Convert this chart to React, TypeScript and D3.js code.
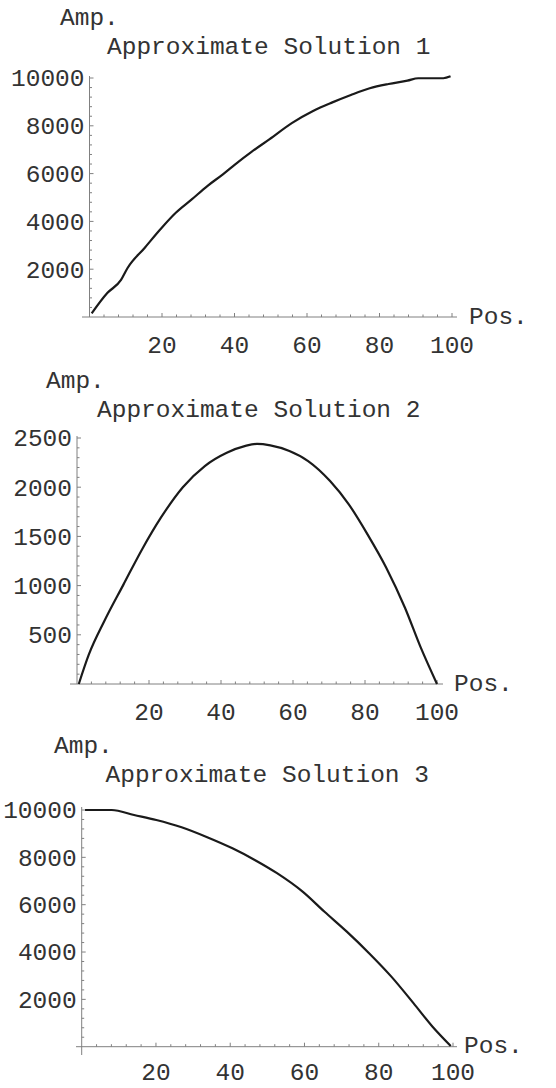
import React from "react";
import * as d3 from "d3";

// ---- data ----
const xTicks = [20, 40, 60, 80, 100];

const sol1Pos = [0.6, 4.9, 8.7, 10.5, 15.2, 19.5, 23.8, 28.2, 32.5, 36.8, 40.2, 44.6, 49.7, 55.8, 61.8, 67, 72.1, 77.3, 82.5, 87.7, 90.7, 97.6, 99.6];
const sol1Amp = [150, 1000, 1550, 2050, 2890, 3660, 4360, 4920, 5480, 5970, 6390, 6900, 7440, 8110, 8630, 8980, 9290, 9570, 9750, 9890, 9990, 9990, 10070];
const sol1YTicks = [2000, 4000, 6000, 8000, 10000];

const sol2Pos = [0.5, 3.3, 7.6, 12.9, 18.1, 23.3, 29.4, 35.5, 41.6, 46.8, 50, 53.7, 59, 64.2, 70.3, 75.5, 80.7, 85.9, 91.1, 95.5, 100];
const sol2Amp = [0, 300, 640, 1010, 1370, 1690, 2000, 2215, 2350, 2420, 2440, 2425, 2368, 2266, 2063, 1826, 1521, 1182, 775, 369, 0];
const sol2YTicks = [500, 1000, 1500, 2000, 2500];

const sol3Pos = [0.9, 8.1, 14.1, 20.1, 26.9, 33.8, 40.6, 46.6, 52.6, 59.5, 65.4, 71.4, 77.4, 83.4, 89.4, 94.5, 99.4];
const sol3Amp = [10000, 10000, 9790, 9580, 9270, 8850, 8380, 7890, 7330, 6550, 5700, 4860, 3950, 2960, 1830, 845, 30];
const sol3YTicks = [2000, 4000, 6000, 8000, 10000];

const titles = ["Approximate Solution 1", "Approximate Solution 2", "Approximate Solution 3"];
const yAxisName = "Amp.";
const xAxisName = "Pos.";

const FONT = "'Liberation Mono', 'DejaVu Sans Mono', monospace";
const FS = 24.5;
const TEXT = "#333";
const AXIS = "#808080";

type PanelProps = {
  pos: number[];
  amp: number[];
  yTicks: number[];
  yMax: number;
  yMinorStep: number;
  title: string;
  xr: [number, number];
  yr: [number, number];
  ampXY: [number, number];
  titleXY: [number, number];
  posXY: [number, number];
  xAxisStart: number;
  xAxisEnd: number;
  yAxisTop: number;
  yAxisBottom: number;
  xLabelDy: number;
};

function Panel(p: PanelProps) {
  const x = d3.scaleLinear().domain([0, 100]).range(p.xr);
  const y = d3.scaleLinear().domain([0, p.yMax]).range(p.yr);
  const data = p.pos.map((v, i) => [v, p.amp[i]] as [number, number]);
  const line = d3
    .line<[number, number]>()
    .x((d) => x(d[0]))
    .y((d) => y(d[1]))
    .curve(d3.curveMonotoneX);
  const x0 = x(0);
  const y0 = y(0);
  const xMinor = d3.range(4, 101, 4).filter((v) => v % 20 !== 0);
  const yMinor = d3.range(p.yMinorStep, p.yMax + 1, p.yMinorStep).filter((v) => !p.yTicks.includes(v));
  return (
    <g>
      <text x={p.ampXY[0]} y={p.ampXY[1]} fontFamily={FONT} fontSize={FS} fill={TEXT}>{yAxisName}</text>
      <text x={p.titleXY[0]} y={p.titleXY[1]} fontFamily={FONT} fontSize={FS} fill={TEXT}>{p.title}</text>
      <text x={p.posXY[0]} y={p.posXY[1]} fontFamily={FONT} fontSize={FS} fill={TEXT}>{xAxisName}</text>
      {/* axes */}
      <line x1={p.xAxisStart} x2={p.xAxisEnd} y1={y0} y2={y0} stroke={AXIS} strokeWidth={1} />
      <line x1={x0} x2={x0} y1={p.yAxisTop} y2={p.yAxisBottom} stroke={AXIS} strokeWidth={1} />
      {xTicks.map((t) => (
        <g key={"xt" + t}>
          <line x1={x(t)} x2={x(t)} y1={y0} y2={y0 - 4} stroke={AXIS} strokeWidth={1} />
          <text x={x(t)} y={y0 + p.xLabelDy} textAnchor="middle" fontFamily={FONT} fontSize={FS} fill={TEXT}>{t}</text>
        </g>
      ))}
      {xMinor.map((t) => (
        <line key={"xm" + t} x1={x(t)} x2={x(t)} y1={y0} y2={y0 - 2.5} stroke={AXIS} strokeWidth={1} />
      ))}
      {p.yTicks.map((t) => (
        <g key={"yt" + t}>
          <line x1={x0} x2={x0 + 4} y1={y(t)} y2={y(t)} stroke={AXIS} strokeWidth={1} />
          <text x={x0 - 5} y={y(t)} dy="0.34em" textAnchor="end" fontFamily={FONT} fontSize={FS} fill={TEXT}>{t}</text>
        </g>
      ))}
      {yMinor.map((t) => (
        <line key={"ym" + t} x1={x0} x2={x0 + 2.5} y1={y(t)} y2={y(t)} stroke={AXIS} strokeWidth={1} />
      ))}
      <path d={line(data) || ""} fill="none" stroke="#1a1a1a" strokeWidth={2.2} strokeLinejoin="round" />
    </g>
  );
}

export default function App() {
  return (
    <svg width={556} height={1088} style={{ position: "absolute", left: 0, top: 0, background: "#fff" }}>
      <rect width={556} height={1088} fill="#fff" />
      <Panel
        pos={sol1Pos} amp={sol1Amp} yTicks={sol1YTicks} yMax={10000} yMinorStep={400}
        title={titles[0]} xr={[89.5, 452]} yr={[317, 78]}
        ampXY={[60, 25]} titleXY={[107, 53.5]} posXY={[469, 324]}
        xAxisStart={82} xAxisEnd={457} yAxisTop={76} yAxisBottom={317} xLabelDy={36}
      />
      <Panel
        pos={sol2Pos} amp={sol2Amp} yTicks={sol2YTicks} yMax={2500} yMinorStep={100}
        title={titles[1]} xr={[77, 437]} yr={[684, 438]}
        ampXY={[46, 388]} titleXY={[97, 417]} posXY={[454, 691]}
        xAxisStart={70} xAxisEnd={443} yAxisTop={436} yAxisBottom={684} xLabelDy={36}
      />
      <Panel
        pos={sol3Pos} amp={sol3Amp} yTicks={sol3YTicks} yMax={10000} yMinorStep={400}
        title={titles[2]} xr={[81.7, 453]} yr={[1046.7, 810]}
        ampXY={[54, 753]} titleXY={[105.5, 781.5]} posXY={[464, 1053]}
        xAxisStart={76} xAxisEnd={457} yAxisTop={807} yAxisBottom={1055} xLabelDy={33}
      />
    </svg>
  );
}
